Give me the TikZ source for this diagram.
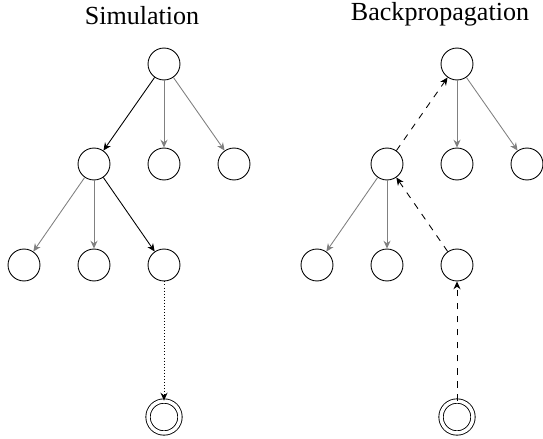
\documentclass[tikz,border=0pt]{standalone}
\usepackage{fontspec}
\setmainfont{Liberation Serif}
\usetikzlibrary{arrows.meta}

\begin{document}
\begin{tikzpicture}[x=0.46pt,y=-0.46pt,
		state/.style={draw,circle,inner sep=0pt,minimum size=14.7pt},
		final/.style={state,double,double distance=1.6pt},
		grayedge/.style={draw=gray,-{Stealth[length=3.6pt,width=3.2pt]}},
		pathedge/.style={draw=black,-{Stealth[length=3.6pt,width=3.2pt]}},
		simedge/.style={draw=black,densely dotted,-{Stealth[length=3.6pt,width=3.2pt]}},
		backedge/.style={draw=black,dashed,-{Stealth[length=3.6pt,width=3.2pt]}},
		title/.style={anchor=base,font=\fontsize{12pt}{14pt}\selectfont}]
	\useasboundingbox (0,0) rectangle (543,438);
	% Simulation
	\node [title] (simtitle) at (142,24) {Simulation};
	\node [state] (s0) at (164,64) {};
	\node [state] (s1) at (94,164) {};
	\node [state] (s2) at (164,164) {};
	\node [state] (s3) at (234,164) {};
	\node [state] (s4) at (24,265) {};
	\node [state] (s5) at (94,265) {};
	\node [state] (s6) at (164,265) {};
	\node [final] (s7) at (164,417) {};
	\draw [pathedge] (s0) -- (s1);
	\draw [grayedge] (s0) -- (s2);
	\draw [grayedge] (s0) -- (s3);
	\draw [grayedge] (s1) -- (s4);
	\draw [grayedge] (s1) -- (s5);
	\draw [pathedge] (s1) -- (s6);
	\draw [simedge] (s6) -- (s7);
	% Backpropagation
	\node [title] (bptitle) at (440,21) {Backpropagation};
	\node [state] (b0) at (457,64) {};
	\node [state] (b1) at (387,164) {};
	\node [state] (b2) at (457,164) {};
	\node [state] (b3) at (527,164) {};
	\node [state] (b4) at (317,265) {};
	\node [state] (b5) at (387,265) {};
	\node [state] (b6) at (457,265) {};
	\node [final] (b7) at (457,417) {};
	\draw [backedge] (b1) -- (b0);
	\draw [grayedge] (b0) -- (b2);
	\draw [grayedge] (b0) -- (b3);
	\draw [grayedge] (b1) -- (b4);
	\draw [grayedge] (b1) -- (b5);
	\draw [backedge] (b6) -- (b1);
	\draw [backedge] (b7) -- (b6);
\end{tikzpicture}
\end{document}
